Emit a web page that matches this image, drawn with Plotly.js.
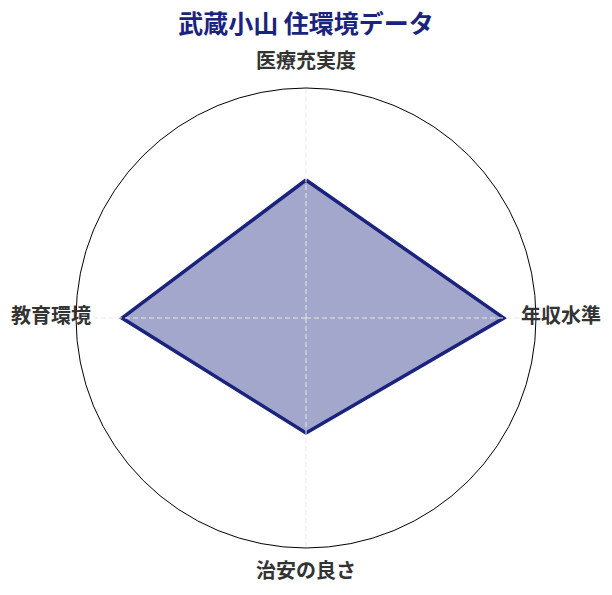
<!DOCTYPE html>
<html>
<head>
<meta charset="utf-8">
<script src="https://cdn.plot.ly/plotly-3.0.1.min.js"></script>
<style>
  html, body { margin: 0; padding: 0; background: #fff; }
  #chart { width: 612px; height: 595px; }
</style>
</head>
<body>
<div id="chart"></div>
<script>
// categories, clockwise from the top
var categories = ["医療充実度", "年収水準", "治安の良さ", "教育環境"];
var scores = [3.0, 4.3, 2.5, 4.0];
var scoreMax = 5;

var FONT = '"Noto Sans CJK JP", "Noto Sans", sans-serif';

// close the polygon
var r = scores.concat([scores[0]]);
var theta = categories.concat([categories[0]]);

var area = {
    type: "scatterpolar",
    subplot: "polar",
    r: r,
    theta: theta,
    mode: "lines",
    fill: "toself",
    fillcolor: "rgba(26, 35, 126, 0.4)",
    line: { color: "#1a237e", width: 3.5 },
    hoverinfo: "skip"
};

// spokes drawn over the filled area (dashed, light)
var spokeR = [], spokeT = [];
categories.forEach(function(c) {
    spokeR.push(0, scoreMax, null);
    spokeT.push(c, c, null);
});
var spokes = {
    type: "scatterpolar",
    subplot: "polar",
    r: spokeR,
    theta: spokeT,
    mode: "lines",
    line: { color: "#e8e8e8", width: 1, dash: "5px,3px" },
    hoverinfo: "skip",
    cliponaxis: false
};

// category labels sit on the rim of a slightly larger, invisible polar
var labels = {
    type: "scatterpolar",
    subplot: "polar2",
    r: categories.map(function() { return scoreMax; }),
    theta: categories,
    mode: "text",
    text: categories.map(function(c) { return "<b>" + c + "</b>"; }),
    textposition: "middle center",
    textfont: { family: FONT, size: 20, color: "#333" },
    hoverinfo: "skip",
    cliponaxis: false
};

var hiddenAngular = {
    rotation: 90,
    direction: "clockwise",
    showline: false,
    showgrid: false,
    ticks: "",
    showticklabels: false
};

var layout = {
    width: 612,
    height: 595,
    margin: { l: 51, r: 51, t: 63, b: 22 },
    paper_bgcolor: "#fff",
    showlegend: false,
    font: { family: FONT, color: "#333" },
    title: {
        text: "<b>武蔵小山 住環境データ</b>",
        font: { family: FONT, size: 25, color: "#1a237e" },
        x: 0.5,
        xanchor: "center",
        y: 0.96,
        yanchor: "middle"
    },
    polar: {
        domain: { x: [0.049, 0.951], y: [0.049, 0.951] },
        bgcolor: "#fff",
        radialaxis: { visible: false, range: [0, scoreMax] },
        angularaxis: {
            rotation: 90,
            direction: "clockwise",
            showline: true,
            linecolor: "#000",
            linewidth: 1,
            showgrid: false,
            ticks: "",
            showticklabels: false
        }
    },
    polar2: {
        domain: { x: [0, 1], y: [0, 1] },
        bgcolor: "rgba(0,0,0,0)",
        radialaxis: { visible: false, range: [0, scoreMax] },
        angularaxis: hiddenAngular
    }
};

Plotly.newPlot("chart", [area, spokes, labels], layout, { displayModeBar: false, staticPlot: true });
</script>
</body>
</html>
